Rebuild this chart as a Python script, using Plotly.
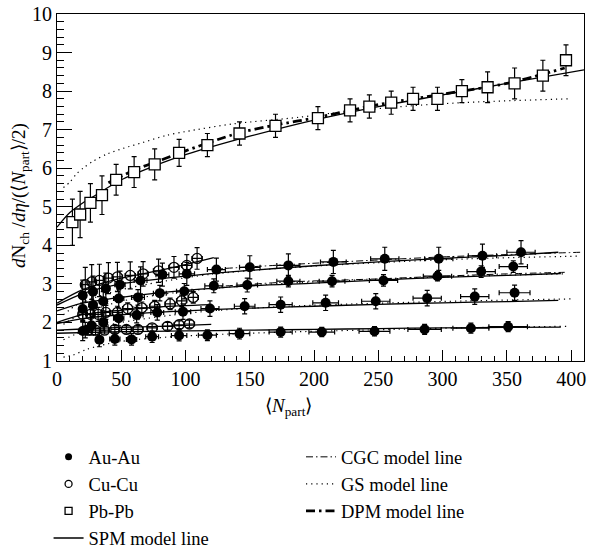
import plotly.graph_objects as go

# ---------------- data ----------------
# Pb-Pb (open squares)
pb_x = [12, 18, 26, 35, 46, 60, 76, 95, 117, 142, 170, 203, 228, 243, 260, 277, 296, 315, 335, 356, 378, 396]
pb_y = [4.6, 4.8, 5.1, 5.3, 5.7, 5.9, 6.1, 6.4, 6.6, 6.9, 7.1, 7.3, 7.5, 7.6, 7.7, 7.8, 7.8, 8.0, 8.1, 8.2, 8.4, 8.8]
pb_ey = [0.6, 0.6, 0.5, 0.5, 0.4, 0.4, 0.4, 0.35, 0.3, 0.3, 0.3, 0.3, 0.3, 0.3, 0.3, 0.3, 0.3, 0.3, 0.4, 0.4, 0.4, 0.4]

# Au-Au (filled circles), four energies
au200_x = [20, 28, 38, 49, 65, 82, 101, 124, 150, 180, 215, 255, 297, 331, 361]
au200_y = [2.7, 2.8, 2.88, 2.98, 3.09, 3.24, 3.26, 3.37, 3.43, 3.48, 3.57, 3.65, 3.65, 3.73, 3.82]
au200_ey = [0.4, 0.4, 0.4, 0.35, 0.35, 0.3, 0.3, 0.3, 0.3, 0.3, 0.3, 0.3, 0.3, 0.3, 0.3]
au200_ex = [2, 3, 3, 4, 5, 5, 6, 7, 8, 9, 10, 11, 11, 11, 11]

au130_x = [20, 28, 36, 48, 63, 80, 99, 122, 148, 180, 214, 254, 296, 330, 355]
au130_y = [2.35, 2.45, 2.55, 2.62, 2.65, 2.76, 2.81, 2.95, 2.97, 3.07, 3.07, 3.09, 3.20, 3.32, 3.45]
au130_ey = [0.3, 0.3, 0.25, 0.25, 0.2, 0.2, 0.2, 0.18, 0.18, 0.15, 0.15, 0.15, 0.12, 0.15, 0.15]
au130_ex = [2, 3, 3, 4, 5, 5, 6, 7, 8, 9, 10, 11, 11, 11, 11]

au62_x = [20, 27, 36, 48, 62, 78, 98, 119, 146, 174, 209, 248, 288, 325, 356]
au62_y = [1.78, 1.92, 2.0, 2.11, 2.19, 2.26, 2.28, 2.36, 2.42, 2.46, 2.51, 2.55, 2.63, 2.67, 2.77]
au62_ey = [0.25, 0.25, 0.22, 0.2, 0.2, 0.2, 0.2, 0.2, 0.2, 0.2, 0.2, 0.2, 0.2, 0.2, 0.2]
au62_ex = [2, 3, 3, 4, 5, 5, 6, 7, 8, 9, 10, 11, 11, 11, 12]

au19_x = [22, 33, 45, 58, 74, 95, 117, 142, 174, 206, 247, 286, 322, 351]
au19_y = [1.80, 1.55, 1.57, 1.56, 1.63, 1.66, 1.67, 1.71, 1.75, 1.75, 1.77, 1.82, 1.85, 1.89]
au19_ey = [0.2, 0.18, 0.16, 0.15, 0.15, 0.14, 0.14, 0.14, 0.13, 0.12, 0.12, 0.13, 0.13, 0.13]
au19_ex = [2, 3, 4, 4, 5, 6, 7, 8, 9, 10, 12, 13, 14, 15]

# Cu-Cu (open circles), three energies
cu200_x = [22, 27, 33, 40, 47, 57, 67, 79, 91, 101, 109]
cu200_y = [2.98, 3.05, 3.09, 3.15, 3.18, 3.22, 3.26, 3.34, 3.43, 3.48, 3.66]
cu200_ey = [0.45, 0.45, 0.42, 0.4, 0.38, 0.35, 0.32, 0.3, 0.28, 0.28, 0.28]

cu62_x = [20, 26, 32, 38, 47, 55, 66, 76, 88, 97, 106]
cu62_y = [2.21, 2.21, 2.21, 2.26, 2.26, 2.36, 2.38, 2.42, 2.48, 2.56, 2.65]
cu62_ey = [0.2, 0.2, 0.18, 0.18, 0.16, 0.15, 0.15, 0.15, 0.15, 0.15, 0.15]

cu22_x = [24, 30, 37, 45, 54, 63, 74, 86, 95, 103]
cu22_y = [1.80, 1.80, 1.80, 1.82, 1.82, 1.82, 1.86, 1.90, 1.94, 1.96]
cu22_ey = [0.12, 0.12, 0.1, 0.1, 0.1, 0.1, 0.1, 0.1, 0.1, 0.1]

cu_ex = [3, 3, 3, 3, 4, 4, 4, 4, 4, 4, 4]

# Model lines
spm_pb_x = [0, 10, 20, 30, 50, 75, 100, 150, 200, 250, 300, 350, 410]
spm_pb_y = [4.47, 4.85, 5.1, 5.3, 5.7, 6.05, 6.35, 6.83, 7.25, 7.6, 7.9, 8.2, 8.55]

dpm_pb_x = [40, 60, 80, 100, 140, 170, 200, 250, 300, 350, 395]
dpm_pb_y = [5.62, 5.95, 6.2, 6.45, 6.9, 7.12, 7.3, 7.65, 7.92, 8.2, 8.6]

gs_pb_x = [5, 10, 15, 21, 28, 39, 52, 67, 85, 100, 137, 188, 212, 276, 328, 398]
gs_pb_y = [5.5, 5.64, 5.85, 6.02, 6.18, 6.37, 6.52, 6.67, 6.85, 6.95, 7.15, 7.32, 7.42, 7.62, 7.72, 7.8]

spm_au200_x = [0, 20, 50, 100, 150, 200, 250, 300, 350, 390]
spm_au200_y = [2.45, 2.75, 3.0, 3.2, 3.35, 3.47, 3.57, 3.66, 3.74, 3.82]
spm_cu200_x = [0, 20, 50, 80, 100, 122]
spm_cu200_y = [2.5, 2.85, 3.15, 3.35, 3.5, 3.68]
spm_au130_x = [0, 20, 50, 100, 150, 200, 250, 300, 350, 392]
spm_au130_y = [2.3, 2.5, 2.65, 2.83, 2.95, 3.02, 3.1, 3.17, 3.22, 3.27]
spm_cu62_x = [0, 20, 50, 80, 120]
spm_cu62_y = [2.0, 2.2, 2.32, 2.4, 2.46]
spm_au62_x = [0, 20, 50, 100, 150, 200, 250, 300, 350, 390]
spm_au62_y = [1.97, 2.1, 2.2, 2.3, 2.37, 2.42, 2.47, 2.51, 2.54, 2.57]
spm_cu22_x = [0, 20, 50, 80, 120]
spm_cu22_y = [1.8, 1.83, 1.87, 1.9, 1.95]
spm_au19_x = [0, 50, 100, 150, 200, 250, 300, 350, 392]
spm_au19_y = [1.72, 1.76, 1.78, 1.8, 1.82, 1.84, 1.86, 1.87, 1.88]

cgc_au200_x = [120, 180, 250, 300, 350, 407]
cgc_au200_y = [3.38, 3.5, 3.62, 3.7, 3.76, 3.82]
cgc_au130_x = [120, 180, 250, 300, 350, 395]
cgc_au130_y = [2.92, 3.05, 3.13, 3.2, 3.26, 3.3]

gs_au200_x = [5, 15, 30, 50, 80, 120, 180, 250, 320, 406]
gs_au200_y = [2.2, 2.45, 2.65, 2.85, 3.05, 3.25, 3.42, 3.55, 3.65, 3.72]
gs_au130_x = [5, 15, 30, 50, 80, 120, 180, 250, 320, 395]
gs_au130_y = [1.95, 2.15, 2.35, 2.55, 2.72, 2.88, 3.02, 3.12, 3.2, 3.26]
gs_au62_x = [5, 15, 30, 50, 80, 120, 180, 250, 320, 400]
gs_au62_y = [1.55, 1.7, 1.85, 2.0, 2.15, 2.3, 2.42, 2.5, 2.56, 2.61]
gs_au19_x = [5, 12, 23, 40, 60, 100, 150, 200, 250, 300, 350, 398]
gs_au19_y = [1.1, 1.15, 1.3, 1.45, 1.55, 1.65, 1.72, 1.77, 1.81, 1.85, 1.88, 1.9]

x_ticks = [0, 50, 100, 150, 200, 250, 300, 350, 400]
y_ticks = [1, 2, 3, 4, 5, 6, 7, 8, 9, 10]

# ---------------- figure ----------------
FONT = "Liberation Serif, Times New Roman, serif"
fig = go.Figure()

SPM = dict(color="black", width=1.3)
CGC = dict(color="black", width=1.0, dash="7px,3px,1.5px,3px")
GS = dict(color="black", width=1.2, dash="1.2px,4px")
DPM = dict(color="black", width=2.8, dash="9px,4px,2.5px,4px")


def line(x, y, style, name):
    fig.add_trace(go.Scatter(x=x, y=y, mode="lines", line=dict(shape="spline", smoothing=0.8, **style),
                             name=name, showlegend=False, hoverinfo="skip"))


line(gs_pb_x, gs_pb_y, GS, "GS model line")
for xx, yy in [(gs_au200_x, gs_au200_y), (gs_au130_x, gs_au130_y), (gs_au62_x, gs_au62_y), (gs_au19_x, gs_au19_y)]:
    line(xx, yy, GS, "GS model line")
for xx, yy in [(cgc_au200_x, cgc_au200_y), (cgc_au130_x, cgc_au130_y)]:
    line(xx, yy, CGC, "CGC model line")
line(spm_pb_x, spm_pb_y, SPM, "SPM model line")
for xx, yy in [(spm_au200_x, spm_au200_y), (spm_cu200_x, spm_cu200_y), (spm_au130_x, spm_au130_y),
               (spm_cu62_x, spm_cu62_y), (spm_au62_x, spm_au62_y), (spm_cu22_x, spm_cu22_y),
               (spm_au19_x, spm_au19_y)]:
    line(xx, yy, SPM, "SPM model line")
line(dpm_pb_x, dpm_pb_y, DPM, "DPM model line")


def err(arr):
    return dict(type="data", array=arr, color="black", thickness=1.2, width=2.5)


# Au-Au
au_sets = [(au200_x, au200_y, au200_ex, au200_ey), (au130_x, au130_y, au130_ex, au130_ey),
           (au62_x, au62_y, au62_ex, au62_ey), (au19_x, au19_y, au19_ex, au19_ey)]
for xx, yy, ex, ey in au_sets:
    fig.add_trace(go.Scatter(x=xx, y=yy, mode="markers", name="Au-Au", showlegend=False,
                             marker=dict(symbol="circle", size=10, color="black"),
                             error_x=err(ex), error_y=err(ey), hoverinfo="skip"))
# Cu-Cu
cu_sets = [(cu200_x, cu200_y, cu200_ey), (cu62_x, cu62_y, cu62_ey), (cu22_x, cu22_y, cu22_ey)]
for xx, yy, ey in cu_sets:
    fig.add_trace(go.Scatter(x=xx, y=yy, mode="markers", name="Cu-Cu", showlegend=False,
                             marker=dict(symbol="circle-open", size=10, color="black", line=dict(width=1.3)),
                             error_x=err(cu_ex[:len(xx)]), error_y=err(ey), hoverinfo="skip"))
# Pb-Pb
fig.add_trace(go.Scatter(x=pb_x, y=pb_y, mode="markers", name="Pb-Pb", showlegend=False,
                         marker=dict(symbol="square", size=11, color="white", line=dict(color="black", width=1.3)),
                         error_y=err(pb_ey), hoverinfo="skip"))

# legend entries
fig.add_trace(go.Scatter(x=[None], y=[None], mode="markers", name="Au-Au", legend="legend",
                         marker=dict(symbol="circle", size=7, color="black")))
fig.add_trace(go.Scatter(x=[None], y=[None], mode="markers", name="Cu-Cu", legend="legend",
                         marker=dict(symbol="circle-open", size=7, color="black", line=dict(width=1.3))))
fig.add_trace(go.Scatter(x=[None], y=[None], mode="markers", name="Pb-Pb", legend="legend",
                         marker=dict(symbol="square-open", size=7, color="black", line=dict(width=1.3))))
fig.add_trace(go.Scatter(x=[None], y=[None], mode="lines", line=SPM, name="SPM model line", legend="legend"))
fig.add_trace(go.Scatter(x=[None], y=[None], mode="lines", line=CGC, name="CGC model line", legend="legend2"))
fig.add_trace(go.Scatter(x=[None], y=[None], mode="lines", line=GS, name="GS model line", legend="legend2"))
fig.add_trace(go.Scatter(x=[None], y=[None], mode="lines", line=DPM, name="DPM model line", legend="legend2"))

axis_common = dict(showline=True, linecolor="black", linewidth=1.2, mirror=True, showgrid=False,
                   zeroline=False, ticks="inside", tickcolor="black", tickwidth=1,
                   ticklabeloverflow="allow",
                   tickfont=dict(family=FONT, size=20, color="black"))

fig.update_layout(
    width=589, height=560,
    margin=dict(l=57, r=3, t=6, b=195),
    plot_bgcolor="white", paper_bgcolor="white",
    font=dict(family=FONT, size=18, color="black"),
    xaxis=dict(range=[0, 410], tickvals=x_ticks, ticklen=11,
               minor=dict(dtick=10, tick0=0, ticks="inside", ticklen=5, tickcolor="black"),
               **axis_common),
    yaxis=dict(range=[1, 10], tickvals=y_ticks, ticklen=15,
               minor=dict(dtick=0.2, tick0=1, ticks="inside", ticklen=7, tickcolor="black"),
               **axis_common),
    legend=dict(x=-0.016, y=-0.2228, xanchor="left", yanchor="top", bgcolor="rgba(0,0,0,0)",
                font=dict(family=FONT, size=18.5), itemsizing="trace", traceorder="normal"),
    legend2=dict(x=0.463, y=-0.2228, xanchor="left", yanchor="top", bgcolor="rgba(0,0,0,0)",
                 font=dict(family=FONT, size=18.5), itemsizing="trace", traceorder="normal"),
    annotations=[
        dict(text="⟨<i>N</i><sub>part</sub>⟩", x=0.4386, y=-0.1337, xref="paper", yref="paper",
             showarrow=False, xanchor="center", yanchor="middle", font=dict(family=FONT, size=19)),
        dict(text="<i>d</i>N<sub>ch</sub> /<i>dη</i>/(⟨<i>N</i><sub>part</sub>⟩/2)", textangle=-90,
             x=-0.070, y=0.476, xref="paper", yref="paper", showarrow=False,
             xanchor="center", yanchor="middle", font=dict(family=FONT, size=19)),
    ],
)

# remove the browser's default page margin so the figure sits at the window's top-left corner
fig.write_html("out.html", config={"displayModeBar": False},
               post_script="document.body.style.margin='0';document.body.style.overflow='hidden';")
